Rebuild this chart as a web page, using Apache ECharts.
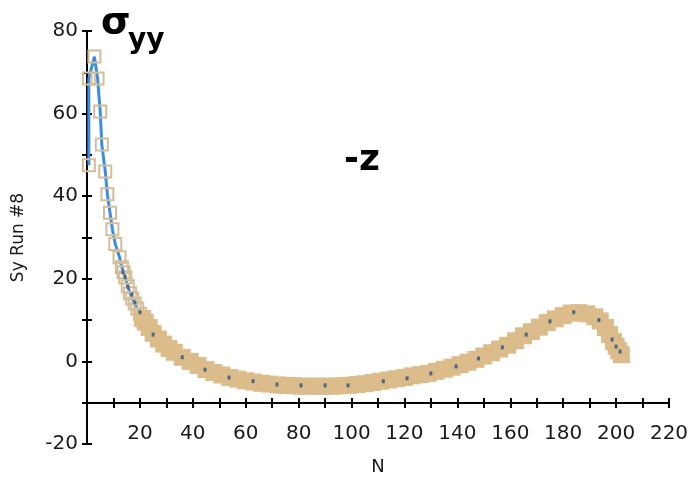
<!DOCTYPE html>
<html>
<head>
<meta charset="utf-8">
<script src="https://cdn.jsdelivr.net/npm/echarts@6/dist/echarts.min.js"></script>
<style>
  html, body { margin: 0; padding: 0; background: #fff; }
  #main { width: 692px; height: 479px; }
</style>
</head>
<body>
<div id="main"></div>
<script>
// curve Sy Run #8 along N
var nVals = [0.7, 0.7, 2.8, 4.0, 5.0, 5.6, 6.9, 7.7, 8.7, 9.6, 10.7, 12.3, 13.2, 13.8, 14.5, 15.4, 16.3, 17.1, 18.0, 19.0, 20.0,
  21, 22, 23.5, 25, 27, 29, 31, 33, 36, 39, 42, 45, 48, 51, 54, 57, 60, 63, 66, 69, 72, 75, 78, 81, 84, 87, 90, 93, 96, 99,
  102, 105, 108, 111, 114, 117, 120, 123, 126, 129, 132, 135, 138, 141, 144, 147, 150, 153, 156, 159, 162, 165, 168, 171,
  174, 177, 180, 183, 186, 189, 192, 194, 196, 197.5, 199, 200, 201, 202];
var syVals = [47.5, 68.5, 73.8, 68.5, 60.5, 52.5, 46, 40.5, 36, 32, 28.4, 25.2, 22.8, 21.6, 20.3, 18.2, 16.5, 15.2, 14, 12.8, 11.5,
  10.4, 9.5, 8.2, 6.8, 5.4, 4.2, 3.1, 2.2, 1, 0, -1, -2, -2.7, -3.3, -3.9, -4.3, -4.7, -5, -5.3, -5.5, -5.7, -5.8, -5.9, -6, -6, -6, -6, -6, -5.9, -5.8,
  -5.6, -5.4, -5.1, -4.8, -4.5, -4.2, -3.9, -3.5, -3.2, -2.9, -2.4, -1.9, -1.4, -0.8, -0.2, 0.5, 1.3, 2.1, 3, 3.9, 5, 6.2, 7.2, 8.3,
  9.4, 10.3, 11.1, 11.7, 11.8, 11.5, 10.8, 9.8, 8.2, 6.5, 4.8, 3.7, 2.6, 1.6];

// small dark dots seen on the band
var dotN = [13.6, 14.4, 15.5, 17, 18.1, 20, 25, 36, 44.6, 53.7, 62.8, 71.8, 80.9, 90, 98.7, 112, 121, 130, 139.5, 148, 157, 166, 175, 184, 193.5, 198.5, 200, 201.5];
var dotV = [21.6, 20.4, 18, 16.2, 14.3, 11.9, 6.5, 1, -2, -3.9, -4.8, -5.6, -5.8, -5.8, -5.8, -4.8, -4.1, -2.9, -1.2, 0.7, 3.4, 6.5, 9.7, 11.9, 10, 5.3, 3.6, 2.4];

var xTicks = { min: 0, max: 220, step: 10 };
var yTicks = { min: -20, max: 80, step: 10 };

var curve = nVals.map(function (n, i) { return [n, syVals[i]]; });
var squares = nVals.map(function (n, i) {
  if (n < 21) {
    return { value: [n, syVals[i]], symbolSize: 12,
      itemStyle: { color: 'rgba(255,255,255,0)', borderColor: '#d3bd98', borderWidth: 2, opacity: 1 } };
  }
  return { value: [n, syVals[i]], symbolSize: 17, itemStyle: { color: '#dcbc8a', borderWidth: 0, opacity: 1 } };
});
var dots = dotN.map(function (n, i) { return [n, dotV[i]]; });

var lblFont = { fontFamily: 'DejaVu Sans', fontSize: 20, color: '#1a1a1a' };
var xOff = -41;

var chart = echarts.init(document.getElementById('main'));
chart.setOption({
  animation: false,
  backgroundColor: '#fff',
  grid: { left: 87, right: 23, top: 31, bottom: 35, containLabel: false, outerBoundsMode: 'none' },
  xAxis: [{
    type: 'value', min: xTicks.min, max: xTicks.max, interval: xTicks.step,
    position: 'bottom', offset: xOff,
    axisLine: { onZero: false, lineStyle: { color: '#000', width: 2 } },
    axisTick: { length: 5, lineStyle: { color: '#000', width: 2 } },
    axisLabel: Object.assign({ margin: 21, formatter: function (v) { return (v % 20 === 0 && v !== 0) ? v : ''; } }, lblFont),
    splitLine: { show: false },
    name: 'N', nameLocation: 'middle', nameGap: 55,
    nameTextStyle: { fontFamily: 'DejaVu Sans', fontSize: 18, color: '#1a1a1a' }
  }, {
    type: 'value', min: xTicks.min, max: xTicks.max, interval: xTicks.step,
    position: 'bottom', offset: xOff,
    axisLine: { show: false, onZero: false },
    axisTick: { inside: true, length: 5, lineStyle: { color: '#000', width: 2 } },
    axisLabel: { show: false },
    splitLine: { show: false }
  }],
  yAxis: [{
    type: 'value', min: yTicks.min, max: yTicks.max, interval: yTicks.step,
    axisLine: { onZero: false, lineStyle: { color: '#000', width: 2 } },
    axisTick: { length: 5, lineStyle: { color: '#000', width: 2 } },
    axisLabel: Object.assign({ margin: 9, formatter: function (v) { return v % 20 === 0 ? v : ''; } }, lblFont),
    splitLine: { show: false },
    name: 'Sy Run #8', nameLocation: 'middle', nameGap: 60, nameRotate: 90,
    nameTextStyle: { fontFamily: 'DejaVu Sans', fontSize: 17, color: '#1a1a1a' }
  }, {
    type: 'value', min: yTicks.min, max: yTicks.max, interval: yTicks.step,
    position: 'left',
    axisLine: { show: false, onZero: false },
    axisTick: { inside: true, length: 5, lineStyle: { color: '#000', width: 2 } },
    axisLabel: { show: false },
    splitLine: { show: false }
  }],
  series: [{
    name: 'Sy Run #8', type: 'line', data: curve, showSymbol: false, z: 2,
    lineStyle: { color: '#3a8de0', width: 3 }
  }, {
    name: 'squares', type: 'scatter', symbol: 'rect', data: squares, z: 3
  }, {
    name: 'dots', type: 'scatter', symbol: 'rect', symbolSize: [3, 4], data: dots, z: 4,
    itemStyle: { color: '#4b6a86', opacity: 1 }
  }],
  graphic: [
    { type: 'text', x: 101, y: 23, style: { text: 'σ', font: 'bold 38px "DejaVu Sans"', fill: '#000', verticalAlign: 'middle' } },
    { type: 'text', x: 128, y: 41, style: { text: 'yy', font: 'bold 28px "DejaVu Sans"', fill: '#000', verticalAlign: 'middle' } },
    { type: 'text', x: 344, y: 161, style: { text: '-z', font: 'bold 36px "DejaVu Sans"', fill: '#000', verticalAlign: 'middle' } }
  ]
});
</script>
</body>
</html>
